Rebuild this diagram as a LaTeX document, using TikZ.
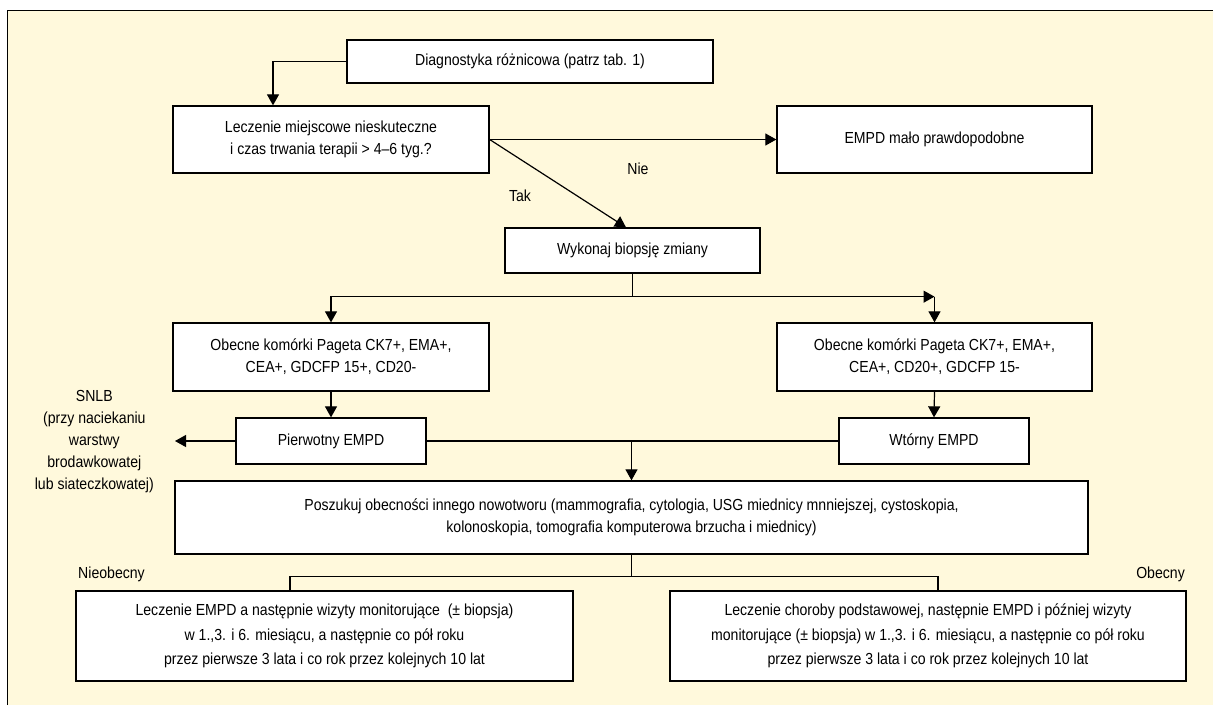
\documentclass[tikz,border=0pt]{standalone}
\usepackage{fontspec}
\setmainfont[FakeStretch=0.88]{Liberation Sans}
\usepackage{tikz}
\usetikzlibrary{arrows.meta}
\usetikzlibrary{calc}

\definecolor{paper}{HTML}{FFF9DC}
\tikzset{
  box/.style={draw, fill=white, line width=1.3pt, align=center, inner sep=2pt,
    font=\fontsize{16}{22}\selectfont},
  arr/.style={-{Triangle[length=11pt,width=12pt]}, line width=1.2pt},
  lin/.style={line width=1.2pt},
  lbl/.style={font=\fontsize{16}{22}\selectfont, align=center, inner sep=0pt},
}

\begin{document}
\begin{tikzpicture}[x=1pt,y=-1pt]
\useasboundingbox (0,0) rectangle (1213,705);
\fill[paper] (7,10) rectangle (1213,705);
\draw[line width=1pt] (7,705) -- (7,10) -- (1213,10);

% boxes
\node[box, minimum width=366pt, minimum height=43pt] (diag) at (530,61.5) {Diagnostyka różnicowa (patrz tab. 1)};
\node[box, minimum width=316pt, minimum height=67pt] (lecz) at (331,139.5) {Leczenie miejscowe nieskuteczne\\i czas trwania terapii > 4–6 tyg.?};
\node[box, minimum width=315pt, minimum height=67pt] (unlikely) at (934.5,139.5) {EMPD mało prawdopodobne};
\node[box, minimum width=255pt, minimum height=45pt] (biopsy) at (632.5,250.5) {Wykonaj biopsję zmiany};
\node[box, minimum width=316pt, minimum height=68pt] (ckl) at (331,357) {Obecne komórki Pageta CK7+, EMA+,\\CEA+, GDCFP 15+, CD20-};
\node[box, minimum width=315pt, minimum height=68pt] (ckr) at (934.5,357) {Obecne komórki Pageta CK7+, EMA+,\\CEA+, CD20+, GDCFP 15-};
\node[box, minimum width=190pt, minimum height=46pt] (prim) at (331,441) {Pierwotny EMPD};
\node[box, minimum width=190pt, minimum height=46pt] (sec) at (934,441) {Wtórny EMPD};
\node[box, minimum width=913pt, minimum height=73pt] (search) at (631.5,517.5) {Poszukuj obecności innego nowotworu (mammografia, cytologia, USG miednicy mnniejszej, cystoskopia,\\kolonoskopia, tomografia komputerowa brzucha i miednicy)};
\node[box, minimum width=497pt, minimum height=90pt, font=\fontsize{16}{24.5}\selectfont] (treatA) at (324.5,636) {Leczenie EMPD a następnie wizyty monitorujące~ (± biopsja)\\w 1.,3. i 6. miesiącu, a następnie co pół roku\\przez pierwsze 3 lata i co rok przez kolejnych 10 lat};
\node[box, minimum width=516pt, minimum height=90pt, font=\fontsize{16}{24.5}\selectfont] (treatB) at (928,636) {Leczenie choroby podstawowej, następnie EMPD i później wizyty\\monitorujące (± biopsja) w 1.,3. i 6. miesiącu, a następnie co pół roku\\przez pierwsze 3 lata i co rok przez kolejnych 10 lat};

% labels
\node[lbl, anchor=east, inner xsep=21pt] (snlb) at (175,442) {SNLB\\(przy naciekaniu\\warstwy\\brodawkowatej\\lub siateczkowatej)};
\node[lbl] (tak) at (520,196) {Tak};
\node[lbl] (nie) at (638,169) {Nie};
\node[lbl] (absent) at (111.5,574) {Nieobecny};
\node[lbl, anchor=east] (present) at (1185,574) {Obecny};

% connectors
\draw[arr] (diag.west) -| ([xshift=-58pt]lecz.north);
\draw[arr] (lecz.east) -- (unlikely.west);
\draw[arr] (lecz.east) -- ([xshift=-6.5pt]biopsy.north);
\coordinate (split) at ($(biopsy.south)+(0,23)$);
\draw[lin] (biopsy.south) -- (split);
\draw[arr] (split) -| (ckl.north);
\draw[arr] (split) -- (split -| ckr.north);
\draw[arr] (split -| ckr.north) -- (ckr.north);
\draw[arr] (ckl.south) -- (prim.north);
\draw[arr] (ckr.south) -- (sec.north);
\draw[arr] (prim.west) -- (snlb.east |- prim.west);
\draw[lin] (prim.east) -- (sec.west);
\draw[arr] (search.north |- prim.east) -- (search.north);
\coordinate (fork) at ($(search.south)+(0,21.5)$);
\draw[lin] (search.south) -- (fork);
\draw[lin] (fork) -| ([xshift=-34.5pt]treatA.north);
\draw[lin] (fork) -| ([xshift=10pt]treatB.north);
\end{tikzpicture}
\end{document}
